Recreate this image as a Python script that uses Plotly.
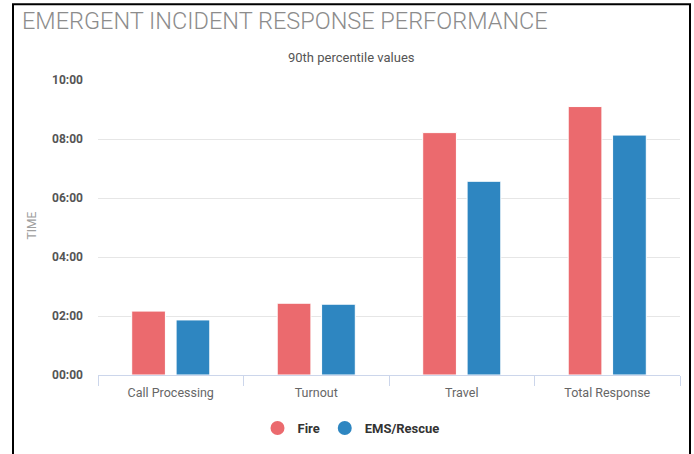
import plotly.graph_objs as go

# === DATA (90th percentile, seconds) ===
categories = ["Call Processing", "Turnout", "Travel", "Total Response"]
fire_secs = [130, 146, 493, 546]
ems_secs = [112, 144, 394, 488]
tick_secs = [0, 120, 240, 360, 480, 600]
tick_labels = ["00:00", "02:00", "04:00", "06:00", "08:00", "10:00"]

FIRE_COLOR = "#EB6A6E"
EMS_COLOR = "#2E86C1"

fig = go.Figure()

fig.add_trace(go.Bar(
    x=categories,
    y=fire_secs,
    name="Fire",
    showlegend=False,
    marker=dict(color=FIRE_COLOR, line=dict(color="white", width=1)),
))

fig.add_trace(go.Bar(
    x=categories,
    y=ems_secs,
    name="EMS/Rescue",
    showlegend=False,
    marker=dict(color=EMS_COLOR, line=dict(color="white", width=1)),
))

# legend entries with round symbols
for name, color in [("Fire", FIRE_COLOR), ("EMS/Rescue", EMS_COLOR)]:
    fig.add_trace(go.Scatter(
        x=[None], y=[None],
        mode="markers",
        name=name,
        marker=dict(symbol="circle", size=14, color=color),
    ))

# plot area: x 98..680, y 80..376
fig.update_layout(
    width=694,
    height=454,
    margin=dict(l=98, r=14, t=80, b=78),
    paper_bgcolor="white",
    plot_bgcolor="white",
    font=dict(family="Roboto", size=12, color="#666666"),
    barmode="group",
    bargap=0.39,
    bargroupgap=0.24,
    title=dict(
        text="EMERGENT INCIDENT RESPONSE PERFORMANCE",
        xref="container", yref="container",
        x=22 / 694, y=1 - 21 / 454,
        xanchor="left", yanchor="middle",
        font=dict(family="Roboto", size=23.5, color="#8c8c8c", weight=300),
    ),
    showlegend=True,
    legend=dict(
        orientation="h",
        x=(351 - 98) / 582, xanchor="center",
        y=(376 - 428) / 296, yanchor="middle",
        font=dict(family="Roboto", size=13, color="#333333", weight="bold"),
        itemwidth=30,
    ),
    xaxis=dict(
        type="category",
        showgrid=False,
        showline=True,
        linecolor="#ccd6eb",
        linewidth=1,
        ticks="outside",
        tickson="boundaries",
        ticklen=10,
        tickcolor="#ccd6eb",
        ticklabelstandoff=6,
        tickfont=dict(family="Roboto", size=12.5, color="#666666"),
        fixedrange=True,
    ),
    yaxis=dict(
        range=[0, 600],
        tickvals=tick_secs,
        ticktext=tick_labels,
        showgrid=True,
        gridcolor="#e6e6e6",
        zeroline=False,
        ticklabelstandoff=14,
        tickfont=dict(family="Roboto", size=12, color="#555555", weight="bold"),
        fixedrange=True,
    ),
    annotations=[
        dict(
            text="90th percentile values",
            xref="paper", yref="paper",
            x=(351 - 98) / 582, y=(376 - 57) / 296,
            xanchor="center", yanchor="middle",
            showarrow=False,
            font=dict(family="Roboto", size=13, color="#555555"),
        ),
        dict(
            text="TIME",
            xref="paper", yref="paper",
            x=(32 - 98) / 582, y=(376 - 226) / 296,
            xanchor="center", yanchor="middle",
            textangle=-90,
            showarrow=False,
            font=dict(family="Roboto", size=12, color="#a0a0a0"),
        ),
    ],
    shapes=[
        # outer frame of the chart container
        dict(
            type="rect", xref="paper", yref="paper",
            x0=(13 - 98) / 582, x1=(690 - 98) / 582,
            y0=-0.4, y1=(376 - 4) / 296,
            line=dict(color="black", width=2),
            fillcolor="rgba(0,0,0,0)",
            layer="above",
        )
    ],
)

fig.write_html(
    "out.html",
    config={"displayModeBar": False},
    post_script="document.body.style.margin='0';",
)
